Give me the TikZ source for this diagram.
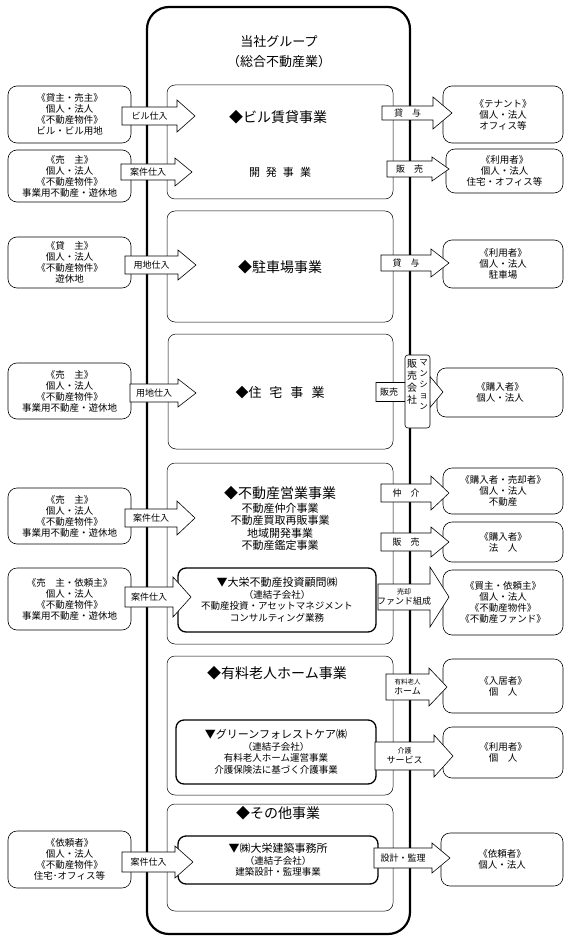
\documentclass[tikz,border=0pt]{standalone}
\usepackage{fontspec}
\setmainfont{Noto Sans CJK JP}
\tikzset{
  cliente/.style={draw, rounded corners=9pt, line width=0.6pt, align=center,
    inner sep=0pt, font=\fontsize{9.5}{11}\selectfont},
  seccion/.style={draw, rounded corners=8pt, line width=0.5pt},
  filial/.style={draw, rounded corners=8pt, line width=1.3pt},
  rubro/.style={inner sep=0pt, font=\fontsize{14}{16}\selectfont},
  detalle/.style={align=center, inner sep=0pt, font=\fontsize{9.5}{11.5}\selectfont},
  flechatxt/.style={align=center, inner sep=0pt, font=\fontsize{9}{10}\selectfont},
}
% flecha de bloque: nombre, x cola, x punta, y, medio cuerpo, media cabeza, largo cabeza, texto
\newcommand{\flecha}[8]{%
  \draw[fill=white, line width=0.6pt] (#2,#4-#5) -- (#3-#7,#4-#5) -- (#3-#7,#4-#6) -- (#3,#4)
    -- (#3-#7,#4+#6) -- (#3-#7,#4+#5) -- (#2,#4+#5) -- cycle;
  \node[flechatxt] (#1) at ({(#2+#3-#7)/2},#4) {#8};}
\begin{document}
\begin{tikzpicture}[x=1pt, y=-1pt]
    \useasboundingbox (0,0) rectangle (573,941);
    % Caja exterior
    \draw[line width=2.2pt, rounded corners=22pt] (147,7) rectangle (410,934);
    \node[align=center, font=\fontsize{13}{20}\selectfont] (grupo) at (279,52) {当社グループ\\（総合不動産業）};
    % Secciones
    \draw[seccion] (167,85)  rectangle (393,199);
    \draw[seccion] (167,211) rectangle (393,322);
    \draw[seccion] (168,334) rectangle (393,449);
    \draw[seccion] (167,463) rectangle (393,644);
    \draw[seccion] (167,656) rectangle (393,795);
    \draw[seccion] (167,804) rectangle (393,911);
    % Filiales
    \draw[filial] (178,568) rectangle (376,632);
    \draw[filial] (176,720) rectangle (376,784);
    \draw[filial] (178,836) rectangle (378,884);
    % Rubros
    \node[rubro] (biru) at (278,117) {◆ビル賃貸事業};
    \node[rubro, font=\fontsize{11}{13}\selectfont] (kaihatsu) at (280,172) {開\hspace{6pt}発\hspace{6pt}事\hspace{6pt}業};
    \node[rubro] (chusha) at (280,267) {◆駐車場事業};
    \node[rubro, font=\fontsize{13}{15}\selectfont] (jutaku) at (280,393) {◆住\hspace{8pt}宅\hspace{8pt}事\hspace{8pt}業};
    \node[rubro] (eigyo) at (280,493) {◆不動産営業事業};
    \node[detalle, font=\fontsize{11}{12.5}\selectfont] (eigyosub) at (280,527) {不動産仲介事業\\不動産買取再販事業\\地域開発事業\\不動産鑑定事業};
    \node[rubro] (rojin) at (277,673) {◆有料老人ホーム事業};
    \node[rubro] (sonota) at (278,813) {◆その他事業};
    \node[detalle] (toshi) at (277,600) {{\fontsize{11}{12}\selectfont ▼大栄不動産投資顧問㈱}\\（連結子会社）\\不動産投資・アセットマネジメント\\コンサルティング業務};
    \node[detalle] (care) at (276,752) {{\fontsize{11}{12}\selectfont ▼グリーンフォレストケア㈱}\\（連結子会社）\\有料老人ホーム運営事業\\介護保険法に基づく介護事業};
    \node[detalle] (kenchiku) at (278,860) {{\fontsize{11}{12}\selectfont ▼㈱大栄建築事務所}\\（連結子会社）\\建築設計・監理事業};
    % Clientes izquierda
    \node[cliente, minimum width=123pt, minimum height=57pt] (l1) at (69.5,114.5) {《貸主・売主》\\個人・法人\\《不動産物件》\\ビル・ビル用地};
    \node[cliente, minimum width=123pt, minimum height=52pt] (l2) at (69.5,176) {《売　主》\\個人・法人\\《不動産物件》\\事業用不動産・遊休地};
    \node[cliente, minimum width=123pt, minimum height=51pt] (l3) at (69.5,262.5) {《貸　主》\\個人・法人\\《不動産物件》\\遊休地};
    \node[cliente, minimum width=123pt, minimum height=56pt] (l4) at (69.5,391) {《売　主》\\個人・法人\\《不動産物件》\\事業用不動産・遊休地};
    \node[cliente, minimum width=123pt, minimum height=56pt] (l5) at (69.5,516) {《売　主》\\個人・法人\\《不動産物件》\\事業用不動産・遊休地};
    \node[cliente, minimum width=123pt, minimum height=62pt] (l6) at (69.5,599) {《売　主・依頼主》\\個人・法人\\《不動産物件》\\事業用不動産・遊休地};
    \node[cliente, minimum width=123pt, minimum height=57pt] (l7) at (69.5,859.5) {《依頼者》\\個人・法人\\《不動産物件》\\住宅･オフィス等};
    % Clientes derecha
    \node[cliente, minimum width=120pt, minimum height=57pt] (r1) at (503,114.5) {《テナント》\\個人・法人\\オフィス等};
    \node[cliente, minimum width=117pt, minimum height=44pt] (r2) at (504.5,171) {《利用者》\\個人・法人\\住宅・オフィス等};
    \node[cliente, minimum width=120pt, minimum height=48pt] (r3) at (503,264) {《利用者》\\個人・法人\\駐車場};
    \node[cliente, minimum width=126pt, minimum height=49pt] (r4) at (500,392.5) {《購入者》\\個人・法人};
    \node[cliente, minimum width=120pt, minimum height=46pt] (r5) at (503,491) {《購入者・売却者》\\個人・法人\\不動産};
    \node[cliente, minimum width=120pt, minimum height=40pt] (r6) at (503,542) {《購入者》\\法　人};
    \node[cliente, minimum width=120pt, minimum height=65pt] (r7) at (503,602.5) {《買主・依頼主》\\個人・法人\\《不動産物件》\\《不動産ファンド》};
    \node[cliente, minimum width=120pt, minimum height=54pt] (r8) at (503,686) {《入居者》\\個　人};
    \node[cliente, minimum width=120pt, minimum height=51pt] (r9) at (503,752.5) {《利用者》\\個　人};
    \node[cliente, minimum width=122pt, minimum height=53pt] (r10) at (502,859.5) {《依頼者》\\個人・法人};
    % Flechas de entrada
    \flecha{a1}{122}{195}{116}{9}{16}{18}{ビル仕入}
    \flecha{a2}{121}{192}{172}{8}{14}{17}{案件仕入}
    \flecha{a3}{125}{196}{265}{9}{15}{18}{用地仕入}
    \flecha{a4}{130}{196}{393}{9}{14}{18}{用地仕入}
    \flecha{a5}{125}{195}{518}{9}{17}{18}{案件仕入}
    \flecha{a6}{125}{191}{597}{10}{20}{18}{案件仕入}
    \flecha{a7}{122}{193}{862}{10}{16}{18}{案件仕入}
    % Flechas de salida
    \flecha{b1}{382}{452}{113}{7}{16}{19}{貸　与}
    \flecha{b2}{387}{449}{169}{8}{12}{17}{販　売}
    \flecha{b3}{381}{449}{263}{8}{14}{18}{貸　与}
    \flecha{b4}{376}{443}{392}{9.5}{15.5}{13}{\hspace{-28pt}販売}
    \flecha{b5}{381}{449}{493}{9}{17}{18}{仲　介}
    \flecha{b6}{381}{449}{542}{9}{15}{18}{販　売}
    \flecha{b7}{378}{449}{597}{13}{30}{19}{\fontsize{7}{11}\selectfont 売却\\ファンド組成}
    \flecha{b8}{386}{447}{687}{13}{19}{18}{\fontsize{6.5}{10}\selectfont 有料老人\\ホーム}
    \flecha{b9}{375}{453}{756}{14}{21}{19}{\fontsize{7}{10}\selectfont 介護\\サービス}
    \flecha{b10}{374}{450}{858}{10}{15}{18}{設計・監理}
    % Mansion
    \node[draw, fill=white, rounded corners=3pt, line width=0.6pt, minimum width=25pt, minimum height=73pt] (mansion) at (417.5,391.5) {};
    \node[align=center, inner sep=0pt, font=\fontsize{10}{12}\selectfont] (hanbai) at (412,382) {販\\売\\会\\社};
    \node[align=center, inner sep=0pt, font=\fontsize{8.5}{11}\selectfont] (manshon) at (423.5,385) {マ\\ン\\シ\\ョ\\ン};
\end{tikzpicture}
\end{document}
